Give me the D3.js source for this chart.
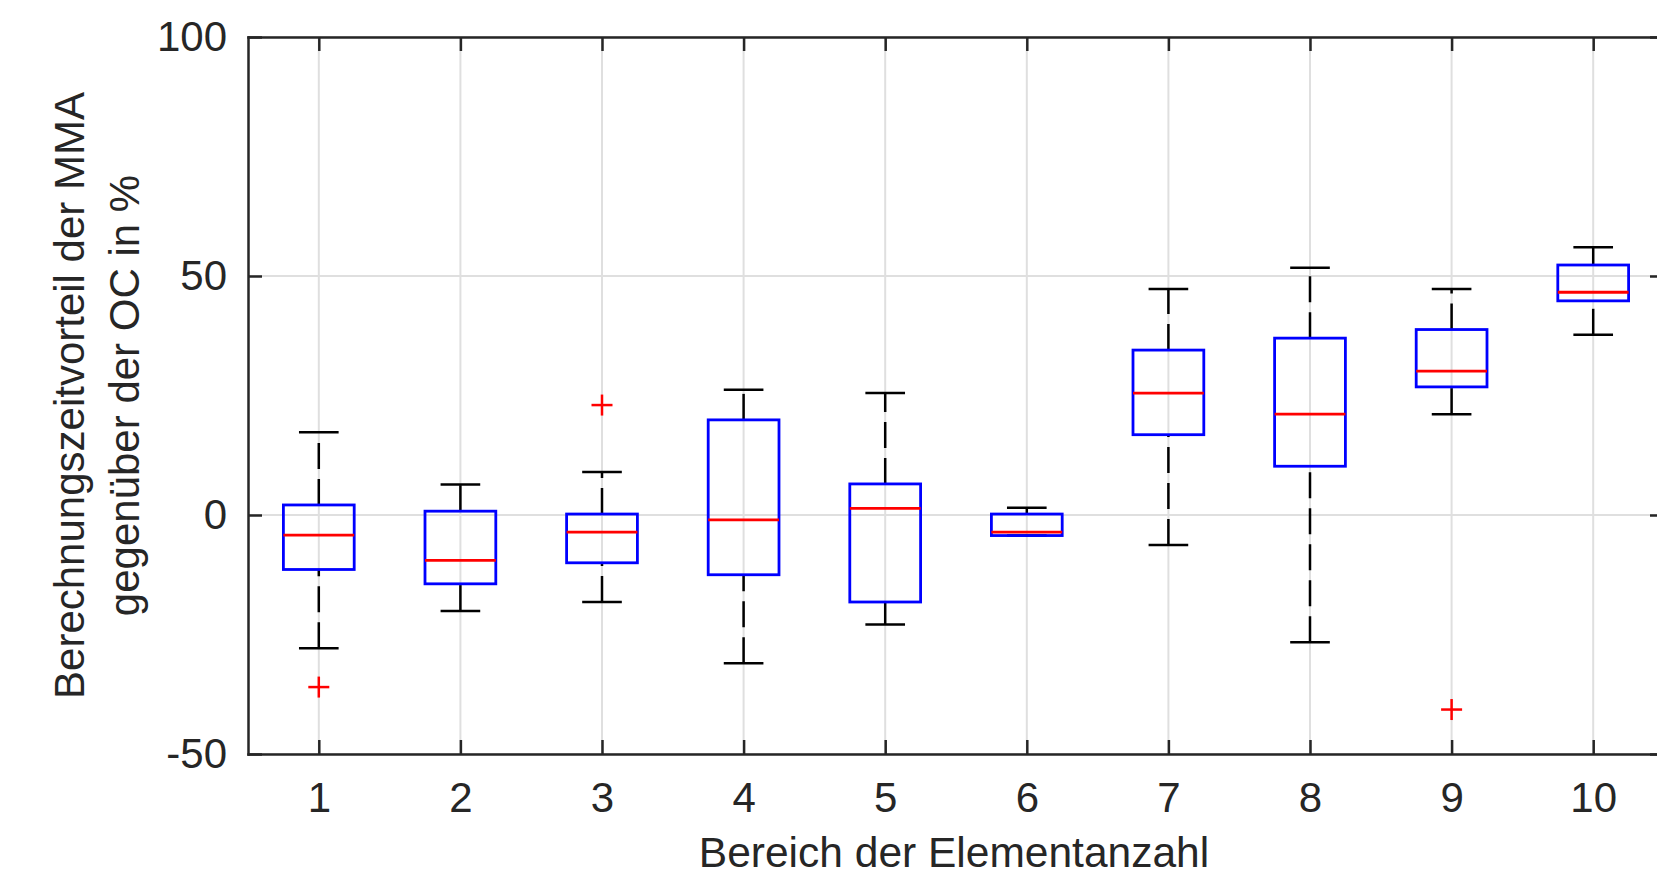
<!DOCTYPE html>
<html>
<head>
<meta charset="utf-8">
<script src="https://cdn.jsdelivr.net/npm/d3@7"></script>
<style>
  body { margin: 0; background: #fff; }
  svg { display: block; }
  text { font-family: "Liberation Sans", Arial, sans-serif; fill: #262626; }
</style>
</head>
<body>
<svg id="chart"></svg>
<script>
// Box plot data (percent)
var categories = [1, 2, 3, 4, 5, 6, 7, 8, 9, 10];
var upperWhisker = [17.3, 6.4, 9.0, 26.2, 25.5, 1.5, 47.3, 51.7, 47.3, 56.0];
var q3 = [2.1, 0.8, 0.2, 19.9, 6.5, 0.2, 34.5, 37.0, 38.8, 52.3];
var medians = [-4.2, -9.5, -3.6, -1.0, 1.4, -3.6, 25.5, 21.1, 30.1, 46.6];
var q1 = [-11.4, -14.4, -10.0, -12.5, -18.2, -4.3, 16.8, 10.2, 26.8, 44.8];
var lowerWhisker = [-27.9, -20.1, -18.2, -31.0, -22.9, -4.3, -6.3, -26.6, 21.1, 37.7];

// Outliers
var outlierCategory = [1, 3, 9];
var outlierValue = [-36.0, 23.0, -40.7];

var yTicks = [-50, 0, 50, 100];

var width = 1657,
  height = 872;
var plotLeft = 248, plotRight = 1664, plotTop = 37, plotBottom = 754;
var boxWidth = 0.5, capWidth = 0.28;

var x = d3.scaleLinear().domain([0.5, 10.5]).range([plotLeft, plotRight]);
var y = d3.scaleLinear().domain([-50, 100]).range([plotBottom, plotTop]);

var svg = d3.select("#chart")
  .attr("width", width)
  .attr("height", height);

// Grid lines
var grid = svg.append("g").attr("stroke", "#dfdfdf").attr("stroke-width", 2);
grid.selectAll(".vgrid")
  .data(categories)
  .enter().append("line")
  .attr("x1", function(d) { return x(d); })
  .attr("x2", function(d) { return x(d); })
  .attr("y1", plotTop)
  .attr("y2", plotBottom);
grid.selectAll(".hgrid")
  .data(yTicks)
  .enter().append("line")
  .attr("x1", plotLeft)
  .attr("x2", plotRight)
  .attr("y1", function(d) { return y(d); })
  .attr("y2", function(d) { return y(d); });

// Boxes
var boxes = svg.selectAll(".box")
  .data(categories)
  .enter().append("g")
  .attr("class", "box");

// whiskers (upper drawn from box outward, lower from cap inward)
boxes.append("line")
  .attr("x1", function(d) { return x(d); })
  .attr("x2", function(d) { return x(d); })
  .attr("y1", function(d, i) { return y(q3[i]); })
  .attr("y2", function(d, i) { return y(upperWhisker[i]); })
  .attr("stroke", "#000")
  .attr("stroke-width", 2.5)
  .attr("stroke-dasharray", "26,10");
boxes.append("line")
  .attr("x1", function(d) { return x(d); })
  .attr("x2", function(d) { return x(d); })
  .attr("y1", function(d, i) { return y(lowerWhisker[i]); })
  .attr("y2", function(d, i) { return y(q1[i]); })
  .attr("stroke", "#000")
  .attr("stroke-width", 2.5)
  .attr("stroke-dasharray", "26,10");

// caps
[upperWhisker, lowerWhisker].forEach(function(arr) {
  boxes.append("line")
    .attr("x1", function(d) { return x(d - capWidth / 2); })
    .attr("x2", function(d) { return x(d + capWidth / 2); })
    .attr("y1", function(d, i) { return y(arr[i]); })
    .attr("y2", function(d, i) { return y(arr[i]); })
    .attr("stroke", "#000")
    .attr("stroke-width", 2.5);
});

boxes.append("rect")
  .attr("x", function(d) { return x(d - boxWidth / 2); })
  .attr("width", x(boxWidth) - x(0))
  .attr("y", function(d, i) { return y(q3[i]); })
  .attr("height", function(d, i) { return y(q1[i]) - y(q3[i]); })
  .attr("fill", "none")
  .attr("stroke", "#0000ff")
  .attr("stroke-width", 2.8);

boxes.append("line")
  .attr("x1", function(d) { return x(d - boxWidth / 2); })
  .attr("x2", function(d) { return x(d + boxWidth / 2); })
  .attr("y1", function(d, i) { return y(medians[i]); })
  .attr("y2", function(d, i) { return y(medians[i]); })
  .attr("stroke", "#ff0000")
  .attr("stroke-width", 2.8);

// outlier markers
var outl = svg.selectAll(".outlier")
  .data(outlierValue)
  .enter().append("g")
  .attr("class", "outlier")
  .attr("transform", function(d, i) {
    return "translate(" + x(outlierCategory[i]) + "," + y(d) + ")";
  })
  .attr("stroke", "#ff0000")
  .attr("stroke-width", 2.5);
outl.append("line").attr("x1", -10.5).attr("x2", 10.5);
outl.append("line").attr("y1", -10.5).attr("y2", 10.5);

// Axes
function styleAxis(g) {
  g.selectAll("path, line").attr("stroke", "#262626").attr("stroke-width", 2.5);
  g.selectAll("text").attr("fill", "#262626").style("font-size", "42px")
    .style("font-family", "Liberation Sans, Arial, sans-serif");
}

svg.append("g")
  .attr("transform", "translate(0," + plotBottom + ")")
  .call(d3.axisBottom(x).tickValues(categories).tickSizeInner(-14).tickSizeOuter(0).tickPadding(28))
  .call(styleAxis);
svg.append("g")
  .attr("transform", "translate(0," + plotTop + ")")
  .call(d3.axisTop(x).tickValues(categories).tickSizeInner(-14).tickSizeOuter(0).tickFormat(""))
  .call(styleAxis);
svg.append("g")
  .attr("transform", "translate(" + plotLeft + ",0)")
  .call(d3.axisLeft(y).tickValues(yTicks).tickSizeInner(-14).tickSizeOuter(0).tickPadding(21)
    .tickFormat(function(d) { return String(d); }))
  .call(styleAxis);
svg.append("g")
  .attr("transform", "translate(" + plotRight + ",0)")
  .call(d3.axisRight(y).tickValues(yTicks).tickSizeInner(-14).tickSizeOuter(0).tickFormat(""))
  .call(styleAxis);

svg.selectAll(".domain").attr("stroke-linecap", "square");

// Axis labels
svg.append("text")
  .attr("x", (plotLeft + plotRight) / 2 - 2)
  .attr("y", 867)
  .attr("text-anchor", "middle")
  .style("font-size", "42.5px")
  .text("Bereich der Elementanzahl");

var ylab = svg.append("text")
  .attr("transform", "translate(84," + ((plotTop + plotBottom) / 2) + ") rotate(-90)")
  .attr("text-anchor", "middle")
  .style("font-size", "42px");
ylab.append("tspan").attr("x", 0).attr("y", 0).text("Berechnungszeitvorteil der MMA");
ylab.append("tspan").attr("x", 0).attr("y", 55).text("gegenüber der OC in %");
</script>
</body>
</html>
